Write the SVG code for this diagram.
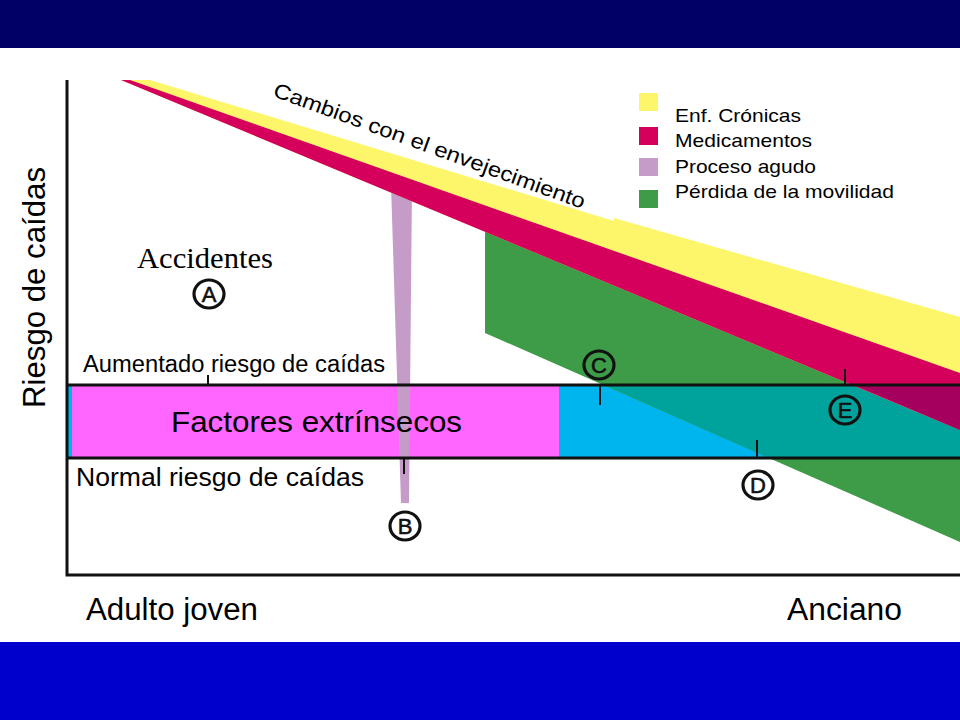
<svg xmlns="http://www.w3.org/2000/svg" width="960" height="720" viewBox="0 0 960 720">
  <style>
    .sans { font-family: "Liberation Sans", Arial, sans-serif; fill: #000; }
    .serif { font-family: "Liberation Serif", "Times New Roman", serif; fill: #000; }
    .axis { stroke: #111; stroke-width: 3; fill: none; }
    .tick { stroke: #111; stroke-width: 2; }
    .mark { fill: none; stroke: #111; stroke-width: 3.2; }
    .markt { font-family: "Liberation Sans", Arial, sans-serif; font-size: 22px; text-anchor: middle; fill: #111; stroke: #111; stroke-width: 0.6; }
    .leg { font-family: "Liberation Sans", Arial, sans-serif; font-size: 19px; fill: #000; }
  </style>
  <rect x="0" y="0" width="960" height="720" fill="#ffffff"/>
  <g id="top-bar"><rect x="0" y="0" width="960" height="48" fill="#000066"/></g>
  <g id="bottom-bar"><rect x="0" y="642" width="960" height="78" fill="#0000CC"/></g>

  <g id="band">
    <rect x="66" y="386" width="8" height="71" fill="#00B5EE"/>
    <rect x="72" y="386" width="488" height="71" fill="#FF66FF"/>
    <rect x="559" y="386" width="401" height="71" fill="#00B5EE"/>
  </g>

  <g id="proceso-agudo">
    <polygon points="391,185 412,185 409,503 401,503" fill="#C59BC8"/>
  </g>

  <g id="perdida-movilidad">
    <polygon points="485,226 960,425 960,542 485,333" fill="#3E9B47"/>
    <polygon points="607,386 857,386 960,430 960,457 767,457" fill="#00A39B"/>
  </g>

  <g id="cambios-envejecimiento">
    <polygon points="150,80 614,221 614,218 960,317 960,430 121,80" fill="#FDF66B"/>
    <polygon points="130,80 960,373 960,430 121,80" fill="#D4005C"/>
    <polygon points="857,386 960,386 960,430" fill="#A6005F"/>
  </g>

  <g id="connectors">
    <polyline class="axis" points="67,80 67,575 960,575"/>
    <line class="axis" x1="66" y1="385" x2="960" y2="385"/>
    <line class="axis" x1="66" y1="458" x2="960" y2="458"/>
    <line class="tick" x1="208" y1="375" x2="208" y2="385"/>
    <line class="tick" x1="404" y1="458" x2="404" y2="474"/>
    <line class="tick" x1="600" y1="385" x2="600" y2="405"/>
    <line class="tick" x1="757" y1="440" x2="757" y2="458"/>
    <line class="tick" x1="845" y1="369" x2="845" y2="385"/>
  </g>

  <g id="mark-A"><ellipse class="mark" cx="209" cy="294" rx="15" ry="14"/><text class="markt" x="209" y="302">A</text></g>
  <g id="mark-B"><ellipse class="mark" cx="405" cy="526" rx="15" ry="14"/><text class="markt" x="405" y="534">B</text></g>
  <g id="mark-C"><ellipse class="mark" cx="599" cy="365" rx="15" ry="14"/><text class="markt" x="599" y="373">C</text></g>
  <g id="mark-D"><ellipse class="mark" cx="758" cy="485" rx="15" ry="14"/><text class="markt" x="758" y="493">D</text></g>
  <g id="mark-E"><ellipse class="mark" cx="845" cy="410" rx="15" ry="14"/><text class="markt" x="845" y="418">E</text></g>

  <g id="legend">
    <rect x="639" y="93" width="19" height="18" fill="#FDF66B"/>
    <rect x="639" y="127" width="19" height="18" fill="#D4005C"/>
    <rect x="639" y="158" width="19" height="18" fill="#C59BC8"/>
    <rect x="639" y="190" width="19" height="18" fill="#3E9B47"/>
    <text class="leg" x="675" y="122" textLength="126" lengthAdjust="spacingAndGlyphs">Enf. Crónicas</text>
    <text class="leg" x="675" y="147" textLength="137" lengthAdjust="spacingAndGlyphs">Medicamentos</text>
    <text class="leg" x="675" y="173" textLength="141" lengthAdjust="spacingAndGlyphs">Proceso agudo</text>
    <text class="leg" x="675" y="198" textLength="219" lengthAdjust="spacingAndGlyphs">Pérdida de la movilidad</text>
  </g>

  <g id="labels">
    <text class="sans" font-size="21" transform="translate(272,96) rotate(20)" textLength="330" lengthAdjust="spacingAndGlyphs">Cambios con el envejecimiento</text>
    <text class="serif" font-size="30" x="137" y="268" textLength="136" lengthAdjust="spacingAndGlyphs">Accidentes</text>
    <text class="sans" font-size="23" x="83" y="372" textLength="302" lengthAdjust="spacingAndGlyphs">Aumentado riesgo de caídas</text>
    <text class="sans" font-size="30" x="171" y="432" textLength="291" lengthAdjust="spacingAndGlyphs">Factores extrínsecos</text>
    <text class="sans" font-size="25" x="76" y="486" textLength="288" lengthAdjust="spacingAndGlyphs">Normal riesgo de caídas</text>
    <text class="sans" font-size="31" transform="translate(45,408) rotate(-90)" textLength="241" lengthAdjust="spacingAndGlyphs">Riesgo de caídas</text>
    <text class="sans" font-size="31" x="86" y="620" textLength="172" lengthAdjust="spacingAndGlyphs">Adulto joven</text>
    <text class="sans" font-size="31" x="787" y="620" textLength="115" lengthAdjust="spacingAndGlyphs">Anciano</text>
  </g>
</svg>
